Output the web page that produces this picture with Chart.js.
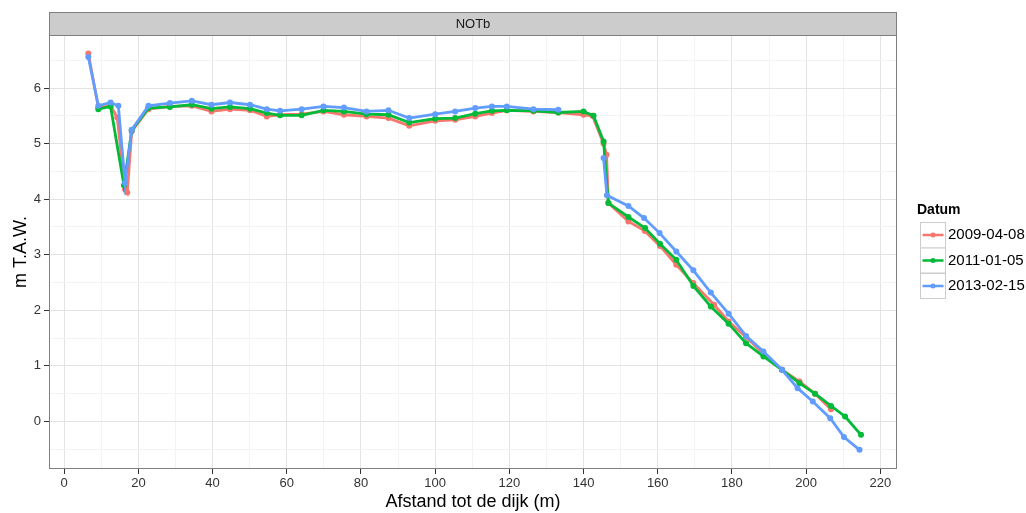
<!DOCTYPE html>
<html>
<head>
<meta charset="utf-8">
<script src="https://cdn.jsdelivr.net/npm/chart.js@4"></script>
<style>
  body { margin: 0; background: #fff; }
  #wrap { width: 1026px; height: 513px; }
</style>
</head>
<body>
<div id="wrap"><canvas id="myChart" width="1026" height="513"></canvas></div>
<script>
// Afstand (m) en hoogte (m T.A.W.) per opnamedatum
const afstand2009 = [6.5, 9.2, 12.5, 14.3, 16.4, 17.0, 18.2, 22.7, 28.5, 34.4, 39.7, 44.7, 50.1, 54.6, 58.2, 64.0, 69.9, 75.4, 81.5, 87.4, 93.0, 100, 105.4, 110.8, 115.3, 119.3, 126.5, 133.2, 140, 142.4, 145.4, 146.2, 146.7, 152.1, 156.5, 160.6, 165, 169.6, 175.2, 179.1, 183.8, 188.5, 193.5, 198.2, 202.4, 206.7];
const hoogte2009 = [6.62, 5.65, 5.68, 5.47, 4.18, 4.12, 5.22, 5.62, 5.67, 5.68, 5.58, 5.62, 5.60, 5.49, 5.52, 5.53, 5.58, 5.52, 5.49, 5.46, 5.32, 5.41, 5.43, 5.49, 5.55, 5.60, 5.58, 5.56, 5.52, 5.50, 5.00, 4.80, 3.93, 3.60, 3.43, 3.16, 2.82, 2.49, 2.10, 1.80, 1.52, 1.22, 0.93, 0.72, 0.50, 0.22];

const afstand2011 = [9.2, 12.5, 16.1, 18.2, 22.7, 28.5, 34.4, 39.7, 44.7, 50.1, 54.6, 58.2, 64.0, 69.9, 75.4, 81.5, 87.4, 93.0, 100, 105.4, 110.8, 115.3, 119.3, 126.5, 133.2, 140, 142.7, 145.4, 146.7, 152.1, 156.6, 160.6, 165, 169.6, 174.3, 179.1, 183.8, 188.5, 193.5, 198.2, 202.4, 206.7, 210.5, 214.8];
const hoogte2011 = [5.62, 5.67, 4.25, 5.24, 5.64, 5.66, 5.70, 5.63, 5.66, 5.63, 5.55, 5.51, 5.51, 5.60, 5.58, 5.53, 5.52, 5.38, 5.45, 5.46, 5.54, 5.59, 5.60, 5.59, 5.56, 5.58, 5.50, 5.04, 3.93, 3.68, 3.48, 3.20, 2.91, 2.44, 2.07, 1.76, 1.41, 1.17, 0.93, 0.69, 0.50, 0.28, 0.09, -0.24];

// null = ontbrekende waarde (lijn onderbroken)
const afstand2013 = [6.5, 9.2, 12.5, 14.6, 16.4, 18.2, 22.7, 28.5, 34.4, 39.7, 44.7, 50.1, 54.6, 58.2, 64.0, 69.9, 75.4, 81.5, 87.4, 93.0, 100, 105.4, 110.8, 115.3, 119.3, 126.5, 133.2, 140, 145.4, 146.3, 152.1, 156.3, 160.5, 165, 169.6, 174.3, 179.1, 183.8, 188.5, 193.5, 197.7, 201.8, 206.5, 210.2, 214.4];
const hoogte2013 = [6.56, 5.68, 5.74, 5.68, 4.29, 5.25, 5.68, 5.73, 5.77, 5.70, 5.74, 5.70, 5.62, 5.59, 5.62, 5.67, 5.65, 5.58, 5.60, 5.46, 5.53, 5.58, 5.64, 5.67, 5.67, 5.62, 5.61, null, 4.74, 4.07, 3.88, 3.66, 3.39, 3.06, 2.72, 2.32, 1.94, 1.54, 1.26, 0.93, 0.60, 0.36, 0.06, -0.28, -0.51];

const datums = ['2009-04-08', '2011-01-05', '2013-02-15'];
const kleuren = ['#F8766D', '#00BA38', '#619CFF'];

const xTicks = [0, 20, 40, 60, 80, 100, 120, 140, 160, 180, 200, 220];
const xMinor = [10, 30, 50, 70, 90, 110, 130, 150, 170, 190, 210];
const yTicks = [0, 1, 2, 3, 4, 5, 6];
const yMinor = [-0.5, 0.5, 1.5, 2.5, 3.5, 4.5, 5.5, 6.5];

const FONT = "'Liberation Sans', Arial, sans-serif";

function punten(xs, ys) {
  return xs.map((x, i) => ({ x: x, y: ys[i] }));
}

const reeksen = [punten(afstand2009, hoogte2009), punten(afstand2011, hoogte2011), punten(afstand2013, hoogte2013)];

// strip bovenaan, kader rond panel en legende
const ggplotDecor = {
  id: 'ggplotDecor',
  afterDraw(chart) {
    const ctx = chart.ctx;
    const a = chart.chartArea;
    ctx.save();
    // panel kader
    ctx.strokeStyle = '#7f7f7f';
    ctx.lineWidth = 1;
    ctx.strokeRect(a.left + 0.5, a.top + 0.5, a.right - a.left - 1, a.bottom - a.top - 1);
    // strip
    ctx.fillStyle = '#cccccc';
    ctx.fillRect(a.left, 12, a.right - a.left, a.top - 12);
    ctx.strokeRect(a.left + 0.5, 12.5, a.right - a.left - 1, a.top - 12);
    ctx.fillStyle = '#1a1a1a';
    ctx.font = '13px ' + FONT;
    ctx.textAlign = 'center';
    ctx.textBaseline = 'middle';
    ctx.fillText('NOTb', (a.left + a.right) / 2, (12 + a.top) / 2 + 1);

    // legende
    ctx.textAlign = 'left';
    ctx.font = 'bold 14px ' + FONT;
    ctx.fillStyle = '#000';
    ctx.fillText('Datum', 917, 210);
    ctx.font = '15px ' + FONT;
    chart.data.datasets.forEach((ds, i) => {
      const top = 222 + i * 25.5;
      ctx.fillStyle = '#ffffff';
      ctx.fillRect(920, top, 25, 25);
      ctx.strokeStyle = '#cccccc';
      ctx.lineWidth = 1;
      ctx.strokeRect(920.5, top + 0.5, 25, 25);
      ctx.strokeStyle = ds.borderColor;
      ctx.lineWidth = 2.5;
      ctx.beginPath();
      ctx.moveTo(922.5, top + 13);
      ctx.lineTo(943.5, top + 13);
      ctx.stroke();
      ctx.fillStyle = ds.borderColor;
      ctx.beginPath();
      ctx.arc(933, top + 13, 2.5, 0, Math.PI * 2);
      ctx.fill();
      ctx.fillStyle = '#000';
      ctx.fillText(ds.label, 948, top + 13);
    });
    ctx.restore();
  }
};

const ctx = document.getElementById('myChart');

new Chart(ctx, {
  type: 'line',
  data: {
    datasets: reeksen.map((data, i) => ({
      label: datums[i],
      data: data,
      borderColor: kleuren[i],
      backgroundColor: kleuren[i],
      borderWidth: 2.8,
      pointRadius: 3,
      pointBorderWidth: 0,
      pointHoverRadius: 3,
      spanGaps: false,
      tension: 0,
      fill: false,
      order: 3 - i
    }))
  },
  options: {
    responsive: false,
    animation: false,
    devicePixelRatio: 1,
    layout: { padding: { top: 35, right: 129, left: 0, bottom: 0 } },
    plugins: {
      legend: { display: false },
      tooltip: { enabled: false }
    },
    scales: {
      x: {
        type: 'linear',
        min: -4.1,
        max: 224.5,
        border: { display: false },
        afterBuildTicks: (axis) => {
          axis.ticks = xTicks.concat(xMinor).sort((a, b) => a - b).map(v => ({ value: v }));
        },
        afterFit: (scale) => { scale.height = 44; },
        grid: {
          color: (c) => c.tick && xTicks.includes(c.tick.value) ? '#e3e3e3' : '#f3f3f3',
          tickColor: (c) => c.tick && xTicks.includes(c.tick.value) ? '#333333' : 'rgba(0,0,0,0)',
          tickLength: 5,
          lineWidth: 1
        },
        ticks: {
          autoSkip: false,
          maxRotation: 0,
          padding: 2,
          color: '#333333',
          font: { family: FONT, size: 13 },
          callback: (v) => xTicks.includes(v) ? String(v) : ''
        },
        title: {
          display: true,
          text: 'Afstand tot de dijk (m)',
          color: '#000',
          font: { family: FONT, size: 18 },
          padding: { top: 0, bottom: 0 }
        }
      },
      y: {
        type: 'linear',
        min: -0.855,
        max: 6.955,
        border: { display: false },
        afterBuildTicks: (axis) => {
          axis.ticks = yTicks.concat(yMinor).sort((a, b) => a - b).map(v => ({ value: v }));
        },
        afterFit: (scale) => { scale.width = 49; },
        grid: {
          color: (c) => c.tick && yTicks.includes(c.tick.value) ? '#e3e3e3' : '#f3f3f3',
          tickColor: (c) => c.tick && yTicks.includes(c.tick.value) ? '#333333' : 'rgba(0,0,0,0)',
          tickLength: 5,
          lineWidth: 1
        },
        ticks: {
          autoSkip: false,
          padding: 3,
          color: '#333333',
          font: { family: FONT, size: 13 },
          callback: (v) => yTicks.includes(v) ? String(v) : ''
        },
        title: {
          display: true,
          text: 'm T.A.W.',
          color: '#000',
          font: { family: FONT, size: 18 },
          padding: { top: 10, bottom: 0 }
        }
      }
    }
  },
  plugins: [ggplotDecor]
});
</script>
</body>
</html>
